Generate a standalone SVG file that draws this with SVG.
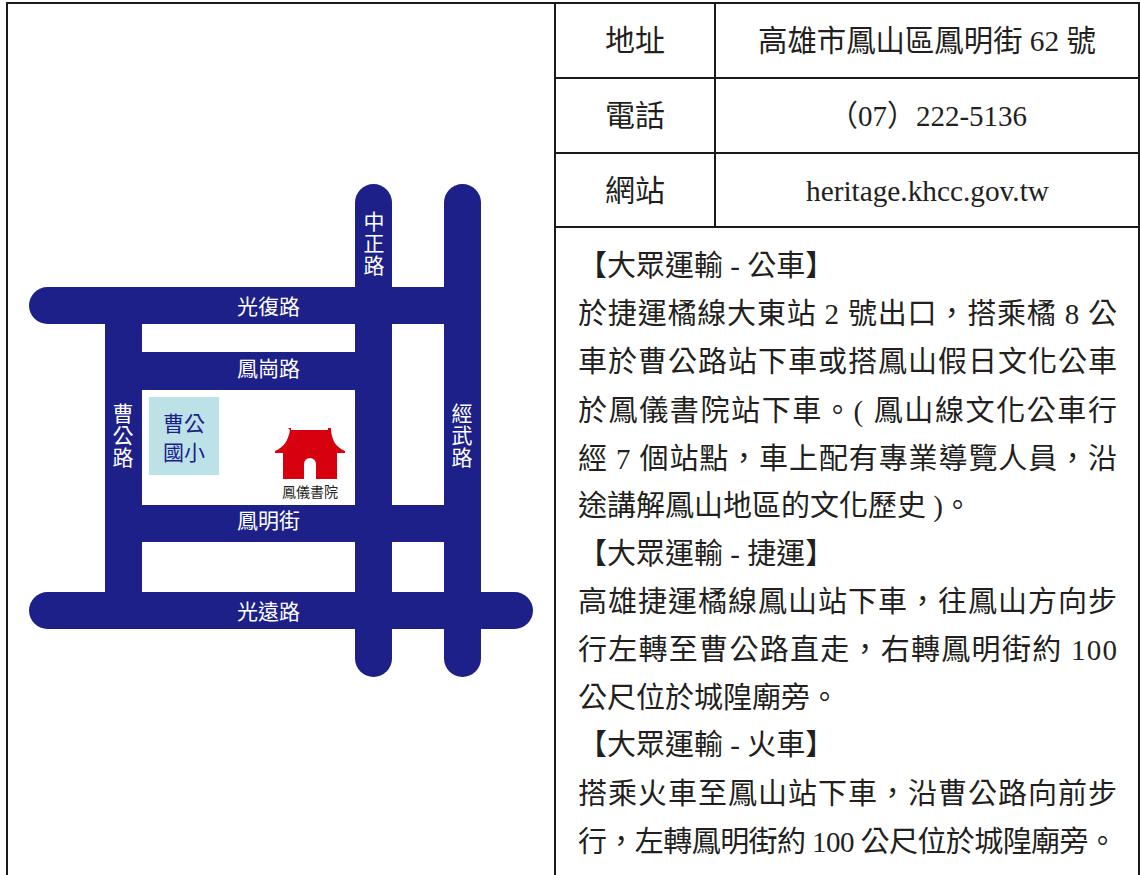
<svg xmlns="http://www.w3.org/2000/svg" width="1140" height="875" viewBox="0 0 1140 875">
<style>
.t{font-family:"Liberation Serif","Noto Sans CJK TC",serif;fill:#231f20}
.c{font-size:30px;text-anchor:middle}
.b{font-size:29px}
.m{font-family:"Noto Sans CJK TC","Liberation Sans",sans-serif;font-size:21px;fill:#fff;text-anchor:middle}
.v{writing-mode:vertical-rl;letter-spacing:1px}
.r{fill:#1d2088}
.g{stroke:#1a1a1a;stroke-width:2;fill:none}
</style>
<rect width="1140" height="875" fill="#fff"/>
<g id="table-grid">
<path class="g" d="M7 875V3H1139V875M555 3V875M715 3V227M555 78H1139M555 153H1139M555 227H1139"/>
</g>
<g id="roads">
<rect class="r" x="29" y="287" width="452" height="37" rx="18.5"/>
<rect class="r" x="29" y="592" width="504" height="37" rx="18.5"/>
<rect class="r" x="355" y="184" width="37" height="493" rx="18.5"/>
<rect class="r" x="444" y="184" width="37" height="493" rx="18.5"/>
<rect class="r" x="105" y="287" width="37" height="342"/>
<rect class="r" x="105" y="352" width="287" height="38"/>
<rect class="r" x="105" y="505" width="376" height="37"/>
</g>
<g id="road-labels">
<text class="m" x="268.500" y="314">光復路</text>
<text class="m" x="268.500" y="376">鳳崗路</text>
<text class="m" x="268.500" y="528">鳳明街</text>
<text class="m" x="268.500" y="619">光遠路</text>
<text class="m v" x="374" y="244">中正路</text>
<text class="m v" x="123" y="436">曹公路</text>
<text class="m v" x="462" y="436">經武路</text>
</g>
<g id="school">
<rect x="149" y="397" width="70" height="78" fill="#bce2e8"/>
<text class="m" x="184" y="431" style="fill:#1d2088">曹公</text>
<text class="m" x="184" y="460" style="fill:#1d2088">國小</text>
</g>
<g id="academy">
<path fill="#d7000f" d="M288 428h3v2h37v-2h3v2c1 11 5 17 14 21v2h-8v26h-54v-26h-8v-2c9-4 13-10 15-21z"/>
<path fill="#fff" d="M304 479v-15a6 6 0 0 1 12 0v15z"/>
<text x="310" y="497" text-anchor="middle" font-size="14" fill="#231f20" font-family="Noto Sans CJK TC, sans-serif">鳳儀書院</text>
</g>
<g id="info-table">
<text class="t c" x="635" y="51">地址</text>
<text class="t c" x="758" y="51" style="text-anchor:start" textLength="338" lengthAdjust="spacingAndGlyphs">高雄市鳳山區鳳明街 62 號</text>
<text class="t c" x="829" y="126" style="text-anchor:start" textLength="198" lengthAdjust="spacingAndGlyphs">（07）222-5136</text>
<text class="t c" x="635" y="126">電話</text>
<text class="t c" x="635" y="201">網站</text>
<text class="t c" x="806" y="201" style="text-anchor:start" textLength="243" lengthAdjust="spacingAndGlyphs">heritage.khcc.gov.tw</text>
</g>
<g id="info-text">
<text class="t b" x="578" y="276">【大眾運輸 - 公車】</text>
<text class="t b" x="578" y="324" textLength="539" lengthAdjust="spacing">於捷運橘線大東站 2 號出口，搭乘橘 8 公</text>
<text class="t b" x="578" y="372" textLength="539" lengthAdjust="spacing">車於曹公路站下車或搭鳳山假日文化公車</text>
<text class="t b" x="578" y="421" textLength="539" lengthAdjust="spacing">於鳳儀書院站下車。( 鳳山線文化公車行</text>
<text class="t b" x="578" y="469" textLength="539" lengthAdjust="spacing">經 7 個站點，車上配有專業導覽人員，沿</text>
<text class="t b" x="578" y="516">途講解鳳山地區的文化歷史 )。</text>
<text class="t b" x="578" y="564">【大眾運輸 - 捷運】</text>
<text class="t b" x="578" y="612" textLength="539" lengthAdjust="spacing">高雄捷運橘線鳳山站下車，往鳳山方向步</text>
<text class="t b" x="578" y="660" textLength="539" lengthAdjust="spacing">行左轉至曹公路直走，右轉鳳明街約 100</text>
<text class="t b" x="578" y="708">公尺位於城隍廟旁。</text>
<text class="t b" x="578" y="755">【大眾運輸 - 火車】</text>
<text class="t b" x="578" y="804" textLength="539" lengthAdjust="spacing">搭乘火車至鳳山站下車，沿曹公路向前步</text>
<text class="t b" x="578" y="852" textLength="539" lengthAdjust="spacing">行，左轉鳳明街約 100 公尺位於城隍廟旁。</text>
</g>
</svg>
